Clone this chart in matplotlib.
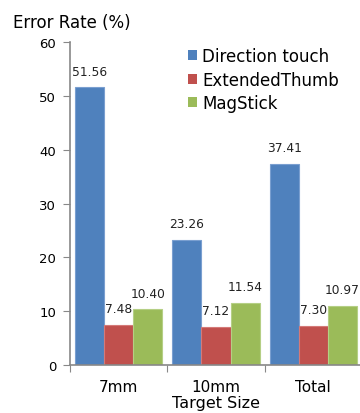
import matplotlib
matplotlib.use("Agg")
import matplotlib.pyplot as plt
from matplotlib.patches import Patch
import numpy as np

categories = ["7mm", "10mm", "Total"]
series_names = ["Direction touch", "ExtendedThumb", "MagStick"]
direction_touch = [51.56, 23.26, 37.41]
extended_thumb = [7.48, 7.12, 7.30]
magstick = [10.40, 11.54, 10.97]
y_ticks = [0, 10, 20, 30, 40, 50, 60]

colors = ["#4F81BD", "#C0504D", "#9BBB59"]
edges = ["#7A9FD0", "#D47A78", "#B5CF85"]

W, H = 360, 414
fig = plt.figure(figsize=(W / 100, H / 100), dpi=100)
ax = fig.add_axes([70 / W, 1 - 366 / H, 292 / W, (366 - 43) / H])

x = np.arange(len(categories))
bw = 0.298
offsets = [-bw, 0, bw]
for vals, off, c, ec in zip([direction_touch, extended_thumb, magstick], offsets, colors, edges):
    bars = ax.bar(x + off, vals, width=bw, color=c, edgecolor=ec, linewidth=0.8)
    for b, v in zip(bars, vals):
        ax.annotate(f"{v:.2f}", (b.get_x() + b.get_width() / 2, v),
                    xytext=(0, 11.5), textcoords="offset points",
                    ha="center", va="center", fontsize=8.8, color="#222222")

ax.set_xlim(-0.5, 2.5)
ax.set_ylim(0, 60)
ax.set_yticks(y_ticks)
ax.set_yticklabels([str(t) for t in y_ticks], fontsize=9.5)
ax.set_xticks([-0.5, 0.5, 1.5, 2.5])
ax.set_xticklabels([])
ax.set_xticks(x, minor=True)
ax.set_xticklabels(categories, minor=True, fontsize=11)
ax.tick_params(axis="x", which="minor", length=0, pad=10)
ax.tick_params(axis="x", which="major", length=5, color="#888888", direction="out")
ax.tick_params(axis="y", length=5, color="#888888", direction="out", pad=5)
for s in ["top", "right"]:
    ax.spines[s].set_visible(False)
for s in ["left", "bottom"]:
    ax.spines[s].set_color("#888888")
    ax.spines[s].set_linewidth(1.2)

ax.set_xlabel("Target Size", fontsize=11.5, labelpad=1)
fig.text(13 / W, 1 - 23 / H, "Error Rate (%)", fontsize=12, ha="left", va="center")

handles = [Patch(facecolor=c, edgecolor="none") for c in colors]
fig.legend(handles, series_names, loc="upper left", bbox_to_anchor=(188 / W, 1 - 48 / H),
           frameon=False, fontsize=12, handlelength=0.55, handleheight=0.55,
           handletextpad=0.3, labelspacing=0.33, borderaxespad=0, borderpad=0)

fig.savefig("out.png", dpi=100)
